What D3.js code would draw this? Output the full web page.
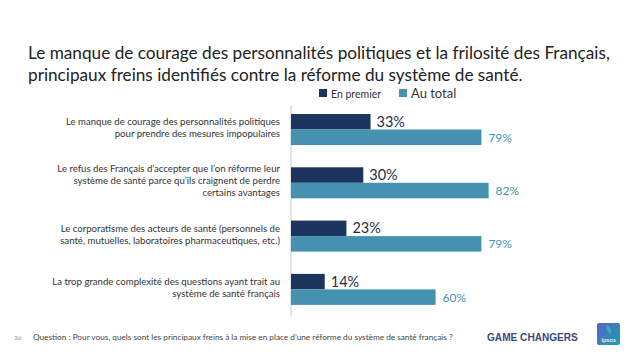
<!DOCTYPE html>
<html>
<head>
<meta charset="utf-8">
<script src="https://cdn.jsdelivr.net/npm/d3@7"></script>
<style>
 body { margin: 0; background: #fff; }
 svg { display: block; font-family: Lato, "Open Sans", sans-serif; }
</style>
</head>
<body>
<svg width="638" height="359"></svg>
<script>
// The data
var categories = [
  ["Le manque de courage des personnalités politiques", "pour prendre des mesures impopulaires"],
  ["Le refus des Français d\u2019accepter que l\u2019on réforme leur", "système de santé parce qu\u2019ils craignent de perdre", "certains avantages"],
  ["Le corporatisme des acteurs de santé (personnels de", "santé, mutuelles, laboratoires pharmaceutiques, etc.)"],
  ["La trop grande complexité des questions ayant trait au", "système de santé français"]
];
var enPremier = [33, 30, 23, 14];
var auTotal = [79, 82, 79, 60];
var seriesNames = ["En premier", "Au total"];
var colors = ["#1c355e", "#4592b0"];

var svg = d3.select("svg");

// fit a text element to a target width by changing its font size
function fitWidth(sel, w) {
  var node = sel.node();
  var fs = parseFloat(sel.attr("font-size"));
  var len = node.getComputedTextLength();
  sel.attr("font-size", (fs * w / len).toFixed(2));
}

// Title
var t1 = svg.append("text").attr("x", 28).attr("y", 59).attr("font-size", 18).attr("fill", "#222")
  .text("Le manque de courage des personnalités politiques et la frilosité des Français,");
fitWidth(t1, 582);
var t2 = svg.append("text").attr("x", 28).attr("y", 81).attr("font-size", t1.attr("font-size")).attr("fill", "#222")
  .text("principaux freins identifiés contre la réforme du système de santé.");

// Scales
var idx = d3.range(categories.length);
var y = d3.scaleBand().domain(idx).range([103.5, 315.4]).paddingInner(0.418).paddingOuter(0.197);
var ySub = d3.scaleBand().domain([0, 1]).range([0, y.bandwidth()]);
var x = d3.scaleLinear().domain([0, 100]).range([291, 532]);

// Axis line
svg.append("line").attr("x1", x(0)).attr("x2", x(0)).attr("y1", 105).attr("y2", 316)
  .attr("stroke", "#c8c8c8").attr("stroke-width", 1);

// Bars
var groups = svg.selectAll(".grp").data(idx).enter().append("g")
  .attr("class", "grp")
  .attr("transform", function (d) { return "translate(0," + y(d) + ")"; });

groups.append("rect")
  .attr("x", x(0)).attr("y", ySub(0))
  .attr("width", function (d) { return x(enPremier[d]) - x(0); })
  .attr("height", ySub.bandwidth())
  .attr("fill", colors[0]);
groups.append("rect")
  .attr("x", x(0)).attr("y", ySub(1))
  .attr("width", function (d) { return x(auTotal[d]) - x(0); })
  .attr("height", ySub.bandwidth())
  .attr("fill", colors[1]);

// value labels
groups.append("text")
  .attr("x", function (d) { return x(enPremier[d]) + 6; })
  .attr("y", ySub(0) + ySub.bandwidth() / 2 + 5)
  .attr("font-size", 14.5).attr("fill", "#1f2f45")
  .text(function (d) { return enPremier[d] + "%"; });
groups.append("text")
  .attr("x", function (d) { return x(auTotal[d]) + 7; })
  .attr("y", ySub(1) + ySub.bandwidth() / 2 + 4.5)
  .attr("font-size", 12).attr("fill", colors[1])
  .text(function (d) { return auTotal[d] + "%"; });

// Category labels
var lineH = 12;
groups.each(function (d) {
  var lines = categories[d];
  var g = d3.select(this);
  var mid = y.bandwidth() / 2 + 3.5 - (lines.length - 1) * lineH / 2;
  lines.forEach(function (l, i) {
    g.append("text").attr("x", 280).attr("y", mid + i * lineH - 2)
      .attr("text-anchor", "end").attr("font-size", 9.6).attr("fill", "#333")
      .text(l);
  });
});

// Legend
var legendX = [319, 399];
var legendFs = [10.5, 13];
seriesNames.forEach(function (s, i) {
  svg.append("rect").attr("x", legendX[i]).attr("y", 89).attr("width", 8).attr("height", 8).attr("fill", colors[i]);
  svg.append("text").attr("x", legendX[i] + 12).attr("y", 97.5).attr("font-size", legendFs[i])
    .attr("fill", "#333").text(s);
});

// Footer
svg.append("text").attr("x", 14).attr("y", 340).attr("font-size", 6.5).attr("fill", "#999").text("36");
var q = svg.append("text").attr("x", 33).attr("y", 340).attr("font-size", 9).attr("fill", "#444")
  .text("Question : Pour vous, quels sont les principaux freins à la mise en place d\u2019une réforme du système de santé français ?");
fitWidth(q, 420);

var gc = svg.append("text").attr("x", 487).attr("y", 341).attr("font-size", 12)
  .attr("font-weight", "bold").attr("fill", "#3a4a7e")
  .attr("font-family", "'Liberation Sans', Arial, sans-serif")
  .text("GAME CHANGERS");
fitWidth(gc, 91);

// Ipsos logo
var defs = svg.append("defs");
var grad = defs.append("linearGradient").attr("id", "ipsosGrad")
  .attr("x1", "0").attr("y1", "0").attr("x2", "1").attr("y2", "1");
grad.append("stop").attr("offset", "0%").attr("stop-color", "#5a5fc8");
grad.append("stop").attr("offset", "100%").attr("stop-color", "#1aa3b0");
svg.append("rect").attr("x", 597).attr("y", 323).attr("width", 23).attr("height", 22).attr("rx", 2)
  .attr("fill", "url(#ipsosGrad)");
svg.append("path").attr("d", "M606,325 q6,1 5,9 q-4,-1 -5,-9 z").attr("fill", "#3fb5c4").attr("opacity", 0.8);
svg.append("text").attr("x", 608.5).attr("y", 342).attr("text-anchor", "middle")
  .attr("font-size", 6.5).attr("fill", "#fff").text("Ipsos");
</script>
</body>
</html>
